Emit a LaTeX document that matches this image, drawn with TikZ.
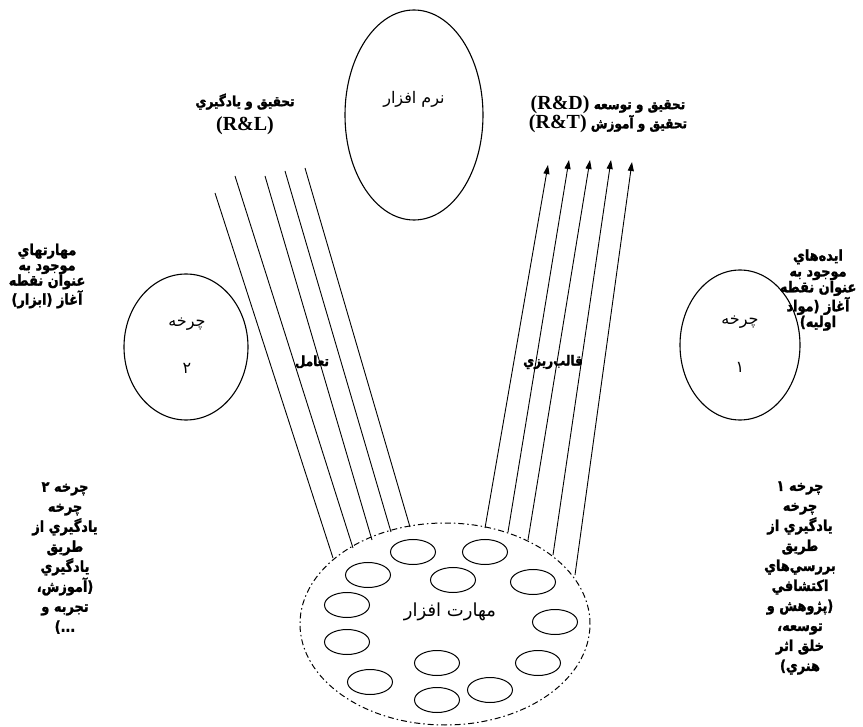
\documentclass[tikz,border=0pt]{standalone}
\usepackage{fontspec}
\setmainfont{Liberation Serif}
\newfontfamily\fa[Script=Arabic]{DejaVu Sans}
\newfontfamily\fab[Script=Arabic,FakeStretch=0.86,BoldFeatures={FakeBold=1.6}]{DejaVu Sans}
\TeXXeTstate=1
\usetikzlibrary{shapes.geometric,arrows.meta}

\newcommand\rtl[1]{\beginR #1\endR}
\newcommand\ltr[1]{\beginL{\rmfamily\fontsize{20}{20}\selectfont #1}\endL{}}

\begin{document}
\begin{tikzpicture}[x=1pt,y=-1pt,
  oval/.style={draw,ellipse,line width=1.1pt,inner sep=0pt},
  cell/.style={oval,minimum width=45pt,minimum height=25pt,line width=1pt},
  strand/.style={line width=0.9pt},
  flow/.style={line width=0.9pt,-{Triangle[length=9pt,width=6pt]}},
  note/.style={align=center,font=\fab\bfseries\fontsize{15}{15.3}\selectfont},
  tall/.style={align=center,font=\fab\bfseries\fontsize{15}{20}\selectfont},
  plain/.style={font=\fa\fontsize{16}{18}\selectfont}]
\useasboundingbox (0,0) rectangle (863,727);

% main ovals
\node[oval,minimum width=138pt,minimum height=210pt] (soft) at (414,115) {};
\node[plain] (softtxt) at (414,99) {\rtl{نرم افزار}};
\node[oval,minimum width=124pt,minimum height=146pt] (cyctwo) at (186,347) {};
\node[plain] (cyctwoa) at (187,324) {\rtl{چرخه}};
\node[plain] (cyctwob) at (187,368) {۲};
\node[oval,minimum width=120pt,minimum height=150pt] (cycone) at (740,345) {};
\node[plain] (cyconea) at (740,322) {\rtl{چرخه}};
\node[plain] (cyconeb) at (740,367) {۱};

% skill-ware pool
\node[draw,ellipse,line width=1pt,dash pattern=on 6pt off 3pt on 1.5pt off 3pt,
      minimum width=290pt,minimum height=202pt,inner sep=0pt] (skill) at (445,624) {};
\node[plain,font=\fa\fontsize{18}{20}\selectfont] (skilltxt) at (450,612) {\rtl{مهارت افزار}};
\foreach \n/\x/\y in {a/413/552,b/485/552,c/368/575,d/453/580,e/533/582,
                       f/347/605,g/555/622,h/347/642,i/437/663,j/538/663,
                       k/370/682,l/437/700,m/490/690}
  \node[cell] (cell\n) at (\x,\y) {};

% interaction strands (left)
\foreach \i/\xa/\ya/\xb/\yb in {1/215/193/333/558,2/235/176/353/548,3/265/176/372/540,
                                 4/285/171/391/532,5/305/168/410/527}{
  \coordinate (lt\i) at (\xa,\ya);
  \coordinate (lb\i) at (\xb,\yb);
  \draw[strand] (lt\i) -- (lb\i);
}
% moulding arrows (right)
\foreach \i/\xa/\ya/\xb/\yb in {1/485/528/548/165,2/508/532/569/160,3/528/540/590/160,
                                 4/553/555/611/160,5/575/575/632/162}{
  \coordinate (rb\i) at (\xa,\ya);
  \coordinate (rt\i) at (\xb,\yb);
  \draw[flow] (rb\i) -- (rt\i);
}
\node[note,font=\fab\bfseries\fontsize{14}{15}\selectfont] (interact) at (312,362) {\rtl{تعامل}};
\node[note,font=\fab\bfseries\fontsize{14}{15}\selectfont] (mould) at (553,362) {\rtl{قالب‌ريزي}};

% headings
\node[note,font=\fab\bfseries\fontsize{14}{24}\selectfont] (rl) at (245,114)
  {\rtl{تحقيق و يادگيري}\\{\rmfamily\fontsize{20}{20}\selectfont(R\&L)}};
\node[note,font=\fab\bfseries\fontsize{14}{18}\selectfont] (rd) at (608,114)
  {\rtl{تحقيق و توسعه \ltr{(R\&D)}}\\\rtl{تحقيق و آموزش \ltr{(R\&T)}}};

% side notes
\node[note] (tools) at (47,276)
  {\rtl{مهارتهاي}\\\rtl{موجود به}\\\rtl{عنوان نقطه}\\\rtl{آغاز (ابزار)}};
\node[note,font=\fab\bfseries\fontsize{15}{15.8}\selectfont] (ideas) at (818,290)
  {\rtl{ايده‌هاي}\\\rtl{موجود به}\\\rtl{عنوان نقطه}\\\rtl{آغاز (مواد}\\\rtl{اوليه)}};
\node[tall] (cycletwo) at (65,558)
  {\rtl{چرخه ۲}\\\rtl{چرخه}\\\rtl{يادگيري از}\\\rtl{طريق}\\\rtl{يادگيري}\\\rtl{(آموزش،}\\\rtl{تجربه و}\\\rtl{...)}};
\node[tall] (cycleone) at (800,578)
  {\rtl{چرخه ۱}\\\rtl{چرخه}\\\rtl{يادگيري از}\\\rtl{طريق}\\\rtl{بررسي‌هاي}\\\rtl{اکتشافي}\\\rtl{(پژوهش و}\\\rtl{توسعه،}\\\rtl{خلق اثر}\\\rtl{هنري)}};
\end{tikzpicture}
\end{document}
